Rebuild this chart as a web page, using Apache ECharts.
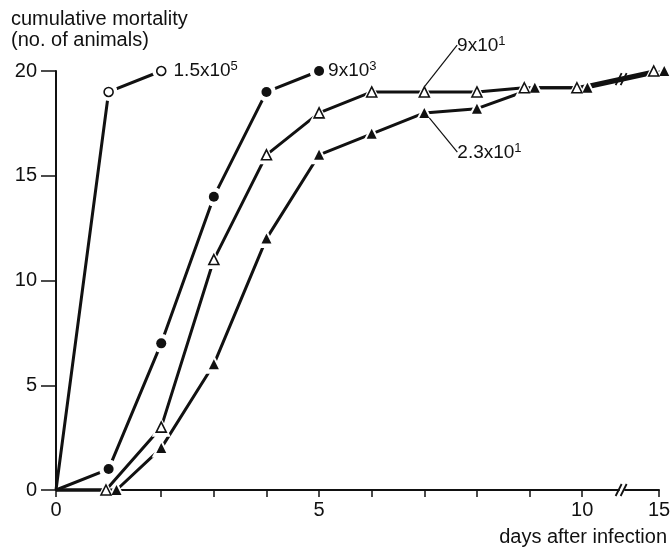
<!DOCTYPE html>
<html style="height: 100%">
<head>
  <meta charset="utf-8">
  <title>cumulative mortality</title>
  <script src="https://cdn.jsdelivr.net/npm/echarts@6/dist/echarts.min.js"></script>
</head>
<body style="height: 100%; margin: 0; background: #fff">
<div id="container" style="width: 671px; height: 548px"></div>
<script type="text/javascript">
  // values (days, no. of animals dead)
  const daysA = [0, 1, 2];
  const deadA = [0, 19, 20];
  const daysB = [0, 1, 2, 3, 4, 5];
  const deadB = [0, 1, 7, 14, 19, 20];
  // open and filled triangles sit side by side where they overlap
  const daysC = [0, 0.95, 2, 3, 4, 5, 6, 7, 8, 8.9, 9.9, 14.9];
  const deadC = [0, 0, 3, 11, 16, 18, 19, 19, 19, 19.2, 19.2, 20];
  const daysD = [0, 1.15, 2, 3, 4, 5, 6, 7, 8, 9.1, 10.1, 15.1];
  const deadD = [0, 0, 2, 6, 12, 16, 17, 18, 18.2, 19.2, 19.2, 20];

  const xTicks = [0, 1, 2, 3, 4, 5, 6, 7, 8, 9, 10, 15];
  const xTickLabels = [0, 5, 10, 15];
  const doseA = ['1.5x10', '5'];
  const doseB = ['9x10', '3'];
  const doseC = ['9x10', '1'];
  const doseD = ['2.3x10', '1'];

  const FONT = '"Liberation Sans", Arial, sans-serif';
  const INK = '#111';

  let dom = document.getElementById('container');
  let myChart = echarts.init(dom);

  const pairs = (xs, ys) => xs.map((x, i) => [x, ys[i]]);
  const rich = {
    b: { fontFamily: FONT, fontSize: 19, color: INK },
    s: { fontFamily: FONT, fontSize: 13, color: INK, verticalAlign: 'top', padding: [0, 0, 9, 0] }
  };
  const doseText = d => `{b|${d[0]}}{s|${d[1]}}`;

  // line without marks, a white halo (the gap round each mark), then the marks
  function curve(xs, ys, symbol, filled, size, lbl) {
    const pts = pairs(xs, ys);
    const marks = pts.slice(1).map((p, i) => {
      const item = { value: p };
      if (lbl && lbl.index === i + 1) {
        item.label = {
          show: true, position: 'right', distance: lbl.distance,
          formatter: doseText(lbl.text), rich: rich
        };
        if (lbl.line) item.labelLine = { show: true, lineStyle: { color: INK, width: 1.2 } };
      }
      return item;
    });
    return [
      {
        type: 'line', data: pts, showSymbol: false, clip: false, z: 2,
        lineStyle: { color: INK, width: 3 }, silent: true
      },
      {
        type: 'scatter', data: pts.slice(1), symbol: symbol, symbolSize: size + 9, clip: false, z: 3,
        itemStyle: { color: '#fff', opacity: 1 }, silent: true
      },
      {
        type: 'scatter', data: marks, symbol: symbol, symbolSize: size, clip: false, z: 4,
        itemStyle: filled ? { color: INK, opacity: 1 } : { color: '#fff', borderColor: INK, borderWidth: 1.6, opacity: 1 },
        labelLayout: lbl && lbl.move ? lbl.move : undefined,
        silent: true
      }
    ];
  }

  const series = [].concat(
    curve(daysA, deadA, 'circle', false, 9, { index: 2, distance: 7, text: doseA }),
    curve(daysB, deadB, 'circle', true, 10, { index: 5, distance: 4, text: doseB }),
    curve(daysC, deadC, 'triangle', false, 10, { index: 7, distance: 5, text: doseC, line: true, move: { dx: 22, dy: -46 } }),
    curve(daysD, deadD, 'triangle', true, 10, { index: 7, distance: 5, text: doseD, line: true, move: { dx: 23, dy: 40 } })
  );

  let option = {
    animation: false,
    backgroundColor: '#fff',
    title: [
      {
        text: 'cumulative mortality\n(no. of animals)', left: 11, top: 9, padding: 0,
        textStyle: { fontFamily: FONT, fontSize: 20, fontWeight: 'normal', color: INK, lineHeight: 21 }
      },
      {
        text: 'days after infection', right: 4, top: 527, padding: 0,
        textStyle: { fontFamily: FONT, fontSize: 20, fontWeight: 'normal', color: INK }
      }
    ],
    grid: { left: 56, right: 12, top: 71, bottom: 58, containLabel: false, outerBoundsMode: 'none' },
    xAxis: {
      type: 'value', min: 0, max: 15, interval: 1,
      breaks: [{ start: 10.7, end: 14.34, gap: 0.1 }],
      breakArea: { show: false, itemStyle: { opacity: 0, borderWidth: 0 } },
      axisLine: { show: true, onZero: false, lineStyle: { color: INK, width: 2 } },
      axisTick: { show: true, inside: false, length: 7, customValues: xTicks, lineStyle: { color: INK, width: 1.5 } },
      axisLabel: {
        fontFamily: FONT, fontSize: 20, color: INK, margin: 10, hideOverlap: false,
        customValues: xTickLabels, formatter: v => String(v)
      },
      splitLine: { show: false }
    },
    yAxis: {
      type: 'value', min: 0, max: 20, interval: 5,
      axisLine: { show: true, onZero: false, lineStyle: { color: INK, width: 2 } },
      axisTick: { show: true, inside: false, length: 15, lineStyle: { color: INK, width: 1.5 } },
      axisLabel: { fontFamily: FONT, fontSize: 20, color: INK, margin: 19 },
      splitLine: { show: false }
    },
    series: series
  };

  myChart.setOption(option, true);

  // the "//" break marks, on the axis and on the line that crosses the break
  const br = option.xAxis.breaks[0];
  const a = myChart.convertToPixel({ gridIndex: 0 }, [br.start, 0]);
  const b = myChart.convertToPixel({ gridIndex: 0 }, [br.end, 0]);
  const mx = (a[0] + b[0]) / 2;
  const last = daysD.length - 1;
  const p0 = myChart.convertToPixel({ gridIndex: 0 }, [daysD[last - 1], deadD[last - 1]]);
  const p1 = myChart.convertToPixel({ gridIndex: 0 }, [daysC[last], deadC[last]]);
  const ly = p0[1] + (p1[1] - p0[1]) * (mx - p0[0]) / (p1[0] - p0[0]);

  function slashes(cx, cy) {
    return {
      type: 'group', x: cx, y: cy, z: 10,
      children: [
        { type: 'rect', shape: { x: -4, y: -3, width: 8, height: 6 }, style: { fill: '#fff' } },
        { type: 'line', shape: { x1: -6, y1: 6, x2: 0, y2: -6 }, style: { stroke: INK, lineWidth: 1.8 } },
        { type: 'line', shape: { x1: -1, y1: 6, x2: 5, y2: -6 }, style: { stroke: INK, lineWidth: 1.8 } }
      ]
    };
  }
  myChart.setOption({ graphic: [slashes(mx, a[1]), slashes(mx, ly)] });
</script>
</body>
</html>
